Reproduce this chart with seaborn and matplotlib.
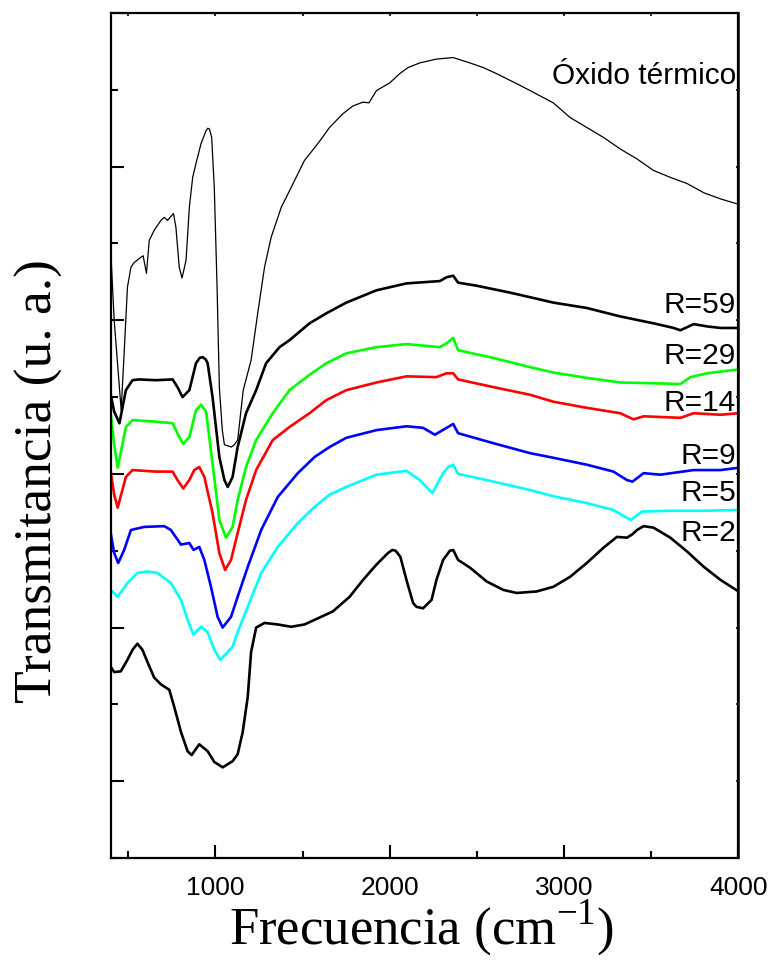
import numpy as np
import pandas as pd
import matplotlib
matplotlib.use("Agg")
import matplotlib.pyplot as plt
import seaborn as sns

# ---------------- data ----------------
x_oxido = [400, 420, 460, 477, 496, 516, 534, 573, 586, 605, 621, 649, 688, 707, 726, 760, 774, 793,
           809, 832, 851, 870, 889, 918, 947, 957, 966, 979, 994, 1010, 1023, 1040, 1052, 1092, 1109, 1128,
           1160, 1205, 1243, 1282, 1320, 1378, 1435, 1511, 1588, 1655, 1732, 1789, 1847, 1881, 1924,
           2000, 2057, 2105, 2172, 2268, 2364, 2460, 2536, 2613, 2728, 2805, 2938, 3034, 3130, 3226,
           3322, 3418, 3513, 3609, 3705, 3801, 3897, 4000]
y_oxido = [6.92, 6.00, 4.83, 5.57, 6.43, 6.69, 6.75, 6.82, 6.84, 6.61, 7.04, 7.17, 7.30, 7.34, 7.30, 7.39,
           7.21, 6.69, 6.55, 6.78, 7.47, 7.86, 8.04, 8.30, 8.47, 8.50, 8.49, 8.38, 7.73, 6.43, 5.13, 4.57, 4.38,
           4.35, 4.38, 4.44, 5.09, 5.48, 6.09, 6.69, 7.08, 7.47, 7.73, 8.08, 8.30, 8.51, 8.69, 8.79, 8.84,
           8.83, 8.99, 9.09, 9.21, 9.29, 9.35, 9.40, 9.42, 9.35, 9.29, 9.21, 9.08, 8.99, 8.83, 8.64, 8.51,
           8.38, 8.23, 8.10, 7.95, 7.86, 7.78, 7.66, 7.58, 7.51]

x_r59 = [400, 420, 450, 487, 525, 563, 659, 755, 783, 812, 851, 889, 910, 927, 945, 956, 984, 1023, 1052,
         1071, 1099, 1128, 1176, 1234, 1291, 1368, 1425, 1540, 1636, 1751, 1924, 2096, 2287, 2326, 2364,
         2392, 2498, 2690, 2805, 2938, 3130, 3322, 3513, 3628, 3667, 3743, 3820, 3897, 4000]
y_r59 = [5.03, 4.81, 4.66, 5.09, 5.22, 5.23, 5.22, 5.23, 5.13, 5.00, 5.09, 5.44, 5.51, 5.52, 5.49, 5.44,
         5.00, 4.22, 3.92, 3.83, 3.96, 4.35, 4.79, 5.09, 5.44, 5.65, 5.74, 5.96, 6.09, 6.23, 6.39, 6.48,
         6.51, 6.56, 6.58, 6.49, 6.45, 6.36, 6.30, 6.23, 6.16, 6.05, 5.96, 5.90, 5.87, 5.95, 5.92, 5.90,
         5.90]

x_r29 = [400, 420, 440, 487, 525, 659, 755, 793, 816, 851, 889, 918, 947, 984, 1023, 1061, 1099, 1128,
         1176, 1234, 1329, 1425, 1540, 1636, 1751, 1924, 2096, 2287, 2326, 2364, 2392, 2594, 2805, 2938,
         3130, 3322, 3513, 3667, 3724, 3820, 4000]
y_r29 = [4.79, 4.38, 4.08, 4.61, 4.70, 4.68, 4.66, 4.48, 4.39, 4.48, 4.83, 4.90, 4.81, 4.14, 3.40, 3.17,
         3.31, 3.66, 4.09, 4.44, 4.79, 5.09, 5.29, 5.44, 5.57, 5.65, 5.69, 5.65, 5.70, 5.77, 5.61, 5.51,
         5.39, 5.32, 5.25, 5.19, 5.18, 5.17, 5.26, 5.31, 5.36]

x_r14 = [400, 420, 440, 487, 525, 659, 755, 783, 816, 851, 879, 908, 937, 984, 1023, 1056, 1090, 1128,
         1176, 1234, 1329, 1425, 1540, 1636, 1751, 1924, 2096, 2268, 2326, 2364, 2392, 2594, 2805, 2938,
         3130, 3322, 3398, 3456, 3667, 3743, 3897, 4000]
y_r14 = [4.03, 3.73, 3.56, 3.96, 4.05, 4.03, 4.03, 3.92, 3.81, 3.92, 4.05, 4.09, 3.96, 3.49, 2.97, 2.75,
         2.88, 3.23, 3.66, 4.05, 4.44, 4.61, 4.79, 4.96, 5.09, 5.19, 5.27, 5.26, 5.31, 5.31, 5.23, 5.13,
         5.03, 4.94, 4.86, 4.79, 4.71, 4.75, 4.73, 4.79, 4.77, 4.79]

x_r9 = [400, 420, 443, 477, 516, 592, 707, 745, 803, 851, 875, 908, 937, 975, 1013, 1042, 1090, 1128,
        1186, 1263, 1358, 1473, 1569, 1655, 1751, 1924, 2096, 2191, 2259, 2326, 2364, 2392, 2594, 2805,
        2938, 3130, 3283, 3360, 3392, 3456, 3552, 3743, 3897, 4000]
y_r9 = [3.23, 2.97, 2.84, 3.01, 3.27, 3.31, 3.32, 3.27, 3.08, 3.10, 3.01, 3.05, 2.88, 2.53, 2.14, 2.00,
        2.14, 2.40, 2.79, 3.27, 3.70, 4.01, 4.22, 4.35, 4.47, 4.57, 4.62, 4.60, 4.51, 4.60, 4.65, 4.53,
        4.40, 4.27, 4.21, 4.12, 4.03, 3.92, 3.90, 4.01, 3.99, 4.05, 4.05, 4.08]

x_r5 = [400, 440, 496, 553, 611, 668, 745, 803, 841, 874, 918, 956, 994, 1029, 1071, 1099, 1128, 1186,
        1263, 1358, 1473, 1569, 1655, 1751, 1924, 2096, 2172, 2245, 2306, 2336, 2364, 2392, 2594, 2805,
        2938, 3130, 3283, 3351, 3383, 3446, 3609, 3801, 4000]
y_r5 = [2.49, 2.40, 2.58, 2.71, 2.73, 2.71, 2.58, 2.36, 2.10, 1.91, 2.01, 1.94, 1.71, 1.58, 1.68, 1.75,
        1.94, 2.27, 2.71, 3.05, 3.36, 3.57, 3.73, 3.83, 3.99, 4.04, 3.92, 3.75, 4.01, 4.09, 4.12, 4.00,
        3.90, 3.79, 3.71, 3.62, 3.53, 3.44, 3.40, 3.51, 3.52, 3.52, 3.53]

x_r2 = [400, 420, 458, 496, 525, 553, 582, 611, 649, 688, 736, 764, 803, 841, 864, 908, 956, 994, 1042,
        1099, 1128, 1157, 1186, 1205, 1234, 1282, 1358, 1435, 1511, 1588, 1674, 1770, 1847, 1924, 1990,
        2015, 2034, 2061, 2096, 2134, 2153, 2191, 2240, 2268, 2306, 2345, 2364, 2392, 2460, 2556, 2651,
        2728, 2843, 2938, 3034, 3130, 3226, 3303, 3360, 3389, 3418, 3456, 3513, 3609, 3705, 3801, 3897,
        4000]
y_r2 = [1.49, 1.42, 1.43, 1.58, 1.71, 1.79, 1.71, 1.55, 1.35, 1.26, 1.19, 0.97, 0.64, 0.39, 0.34, 0.48,
        0.39, 0.25, 0.18, 0.26, 0.35, 0.64, 1.10, 1.68, 2.00, 2.06, 2.04, 2.01, 2.04, 2.12, 2.21, 2.40,
        2.62, 2.82, 2.97, 3.01, 3.00, 2.92, 2.62, 2.32, 2.27, 2.25, 2.36, 2.62, 2.88, 3.00, 3.01, 2.88,
        2.78, 2.60, 2.49, 2.45, 2.47, 2.53, 2.66, 2.84, 3.04, 3.18, 3.17, 3.21, 3.27, 3.32, 3.30, 3.17,
        2.99, 2.79, 2.62, 2.47]

series_names = ["Óxido térmico", "R=59", "R=29", "R=14", "R=9", "R=5", "R=2"]
series_x = [x_oxido, x_r59, x_r29, x_r14, x_r9, x_r5, x_r2]
series_y = [y_oxido, y_r59, y_r29, y_r14, y_r9, y_r5, y_r2]
series_colors = ["#000000", "#000000", "#00FF00", "#FF0000", "#0000FF", "#00FFFF", "#000000"]
series_lw = [0.9, 1.9, 1.9, 1.9, 1.9, 1.9, 1.9]
label_y = [9.09, 6.11, 5.44, 4.83, 4.14, 3.66, 3.14]

x_ticks = [1000, 2000, 3000, 4000]

# ---------------- figure ----------------
sns.set_theme(style="ticks")
plt.rcParams["font.family"] = ["Liberation Sans", "DejaVu Sans"]
plt.rcParams["mathtext.fontset"] = "custom"
plt.rcParams["mathtext.rm"] = "Liberation Serif"
plt.rcParams["text.color"] = "black"
plt.rcParams["xtick.color"] = "black"
plt.rcParams["ytick.color"] = "black"
plt.rcParams["xtick.labelcolor"] = "black"

fig = plt.figure(figsize=(7.82, 9.70), dpi=100)
ax = fig.add_axes([110.7 / 782, 1 - 859 / 970, (738.5 - 110.7) / 782, (859 - 14) / 970])

for name, xs, ys, c, lw in zip(series_names, series_x, series_y, series_colors, series_lw):
    df = pd.DataFrame({"x": xs, "y": ys})
    sns.lineplot(data=df, x="x", y="y", ax=ax, color=c, linewidth=lw,
                 sort=False, estimator=None, legend=False,
                 solid_joinstyle="round", solid_capstyle="round")

for name, yl in zip(series_names, label_y):
    ax.text(3985, yl, name, ha="right", va="baseline", fontsize=21.5,
            family=["Liberation Sans", "DejaVu Sans"], color="black")

ax.set_xlim(400, 4000)
ax.set_ylim(-1, 10)
ax.set_xticks(x_ticks)
ax.set_xticks([500, 1500, 2500, 3500], minor=True)
ax.set_yticks([0, 2, 4, 6, 8, 10])
ax.set_yticks([-1, 1, 3, 5, 7, 9], minor=True)
ax.set_yticklabels([])
ax.set_xlabel("")
ax.set_ylabel("")
for sp in ax.spines.values():
    sp.set_linewidth(1.6)
    sp.set_color("black")
    sp.set_visible(True)

ax.tick_params(axis="both", which="major", direction="in", length=9.5, width=1.5, color="black")
ax.tick_params(axis="both", which="minor", direction="in", length=5, width=1.5, color="black")
ax.tick_params(axis="x", which="major", labelsize=19, pad=12, labelcolor="black")

top = ax.secondary_xaxis("top")
top.set_xticks(x_ticks)
top.set_xticks([500, 1500, 2500, 3500], minor=True)
top.tick_params(which="both", direction="in", length=2.5, width=1.2, labeltop=False, color="black")
right = ax.secondary_yaxis("right")
right.set_yticks([0, 2, 4, 6, 8, 10])
right.set_yticks([-1, 1, 3, 5, 7, 9], minor=True)
right.tick_params(which="both", direction="in", length=2.5, width=1.2, labelright=False, color="black")

fig.text(422 / 782, 1 - 928 / 970, "Frecuencia (cm$^{\\mathregular{-1}}$)", ha="center", va="center",
         fontsize=38, family="Liberation Serif", color="black")
fig.text(39 / 782, 1 - 481 / 970, "Transmitancia (u. a.)", ha="center", va="center",
         rotation=90, fontsize=38.5, family="Liberation Serif", color="black")

fig.savefig("out.png", dpi=100)
